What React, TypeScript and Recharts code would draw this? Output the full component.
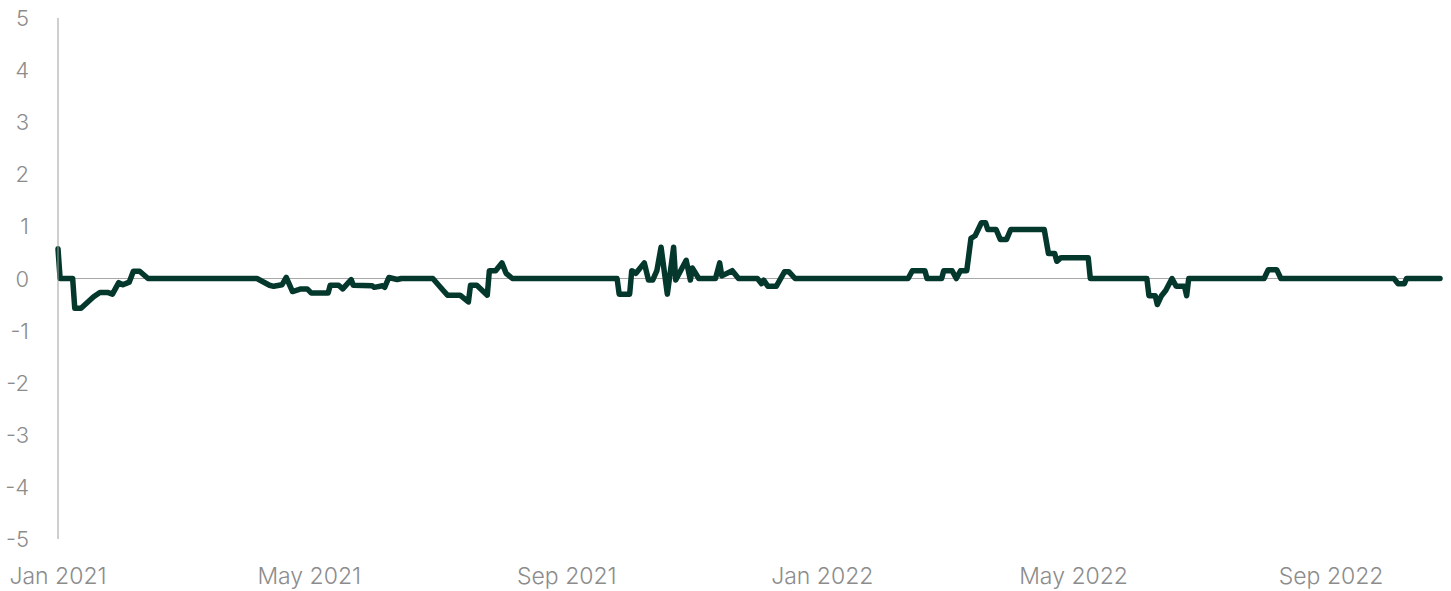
import React from 'react';
import { LineChart, Line, XAxis, YAxis, ReferenceLine } from 'recharts';

// Daily spread readings (percentage points), sampled at the turning points of the series
const dates = [
  '2021-01-01', '2021-01-02', '2021-01-08', '2021-01-09', '2021-01-12', '2021-01-18', '2021-01-21',
  '2021-01-25', '2021-01-27', '2021-01-30', '2021-02-01', '2021-02-04', '2021-02-06', '2021-02-09',
  '2021-02-13', '2021-04-06', '2021-04-12', '2021-04-14', '2021-04-18', '2021-04-20', '2021-04-23',
  '2021-04-27', '2021-04-30', '2021-05-02', '2021-05-10', '2021-05-11', '2021-05-15', '2021-05-17',
  '2021-05-21', '2021-05-22', '2021-05-31', '2021-06-01', '2021-06-05', '2021-06-06', '2021-06-08',
  '2021-06-12', '2021-06-14', '2021-06-29', '2021-07-04', '2021-07-06', '2021-07-12', '2021-07-16',
  '2021-07-17', '2021-07-20', '2021-07-25', '2021-07-26', '2021-07-29', '2021-08-01', '2021-08-03',
  '2021-08-06', '2021-09-25', '2021-09-26', '2021-10-01', '2021-10-02', '2021-10-04', '2021-10-08',
  '2021-10-10', '2021-10-12', '2021-10-14', '2021-10-16', '2021-10-19', '2021-10-22', '2021-10-23',
  '2021-10-28', '2021-10-30', '2021-10-31', '2021-11-03', '2021-11-11', '2021-11-13', '2021-11-14',
  '2021-11-19', '2021-11-22', '2021-12-01', '2021-12-03', '2021-12-04', '2021-12-06', '2021-12-10',
  '2021-12-14', '2021-12-16', '2021-12-19', '2022-02-11', '2022-02-13', '2022-02-19', '2022-02-20',
  '2022-02-27', '2022-02-28', '2022-03-04', '2022-03-06', '2022-03-08', '2022-03-11', '2022-03-13',
  '2022-03-15', '2022-03-18', '2022-03-20', '2022-03-21', '2022-03-25', '2022-03-27', '2022-03-30',
  '2022-04-01', '2022-04-17', '2022-04-19', '2022-04-22', '2022-04-23', '2022-04-25', '2022-05-08',
  '2022-05-09', '2022-06-05', '2022-06-06', '2022-06-09', '2022-06-10', '2022-06-12', '2022-06-14',
  '2022-06-17', '2022-06-19', '2022-06-23', '2022-06-24', '2022-06-25', '2022-07-31', '2022-08-02',
  '2022-08-06', '2022-08-08', '2022-10-01', '2022-10-03', '2022-10-06', '2022-10-07', '2022-10-23',
];

const values = [
  0.57, 0, 0, -0.57, -0.57, -0.35, -0.27,
  -0.27, -0.3, -0.08, -0.12, -0.07, 0.14, 0.14,
  0, 0, -0.13, -0.15, -0.12, 0.02, -0.25,
  -0.2, -0.2, -0.28, -0.28, -0.13, -0.13, -0.2,
  -0.02, -0.13, -0.14, -0.17, -0.14, -0.17, 0.02,
  -0.02, 0, 0, -0.23, -0.32, -0.32, -0.45,
  -0.13, -0.13, -0.32, 0.15, 0.15, 0.3, 0.1,
  0, 0, -0.3, -0.3, 0.15, 0.1, 0.3,
  -0.03, -0.03, 0.15, 0.6, -0.3, 0.6, -0.03,
  0.35, -0.03, 0.2, 0, 0, 0.3, 0.05,
  0.15, 0, 0, -0.1, -0.03, -0.15, -0.15,
  0.13, 0.13, 0, 0, 0.15, 0.15, 0,
  0, 0.15, 0.15, 0, 0.15, 0.15, 0.77,
  0.82, 1.07, 1.07, 0.94, 0.94, 0.75, 0.75,
  0.94, 0.94, 0.48, 0.48, 0.33, 0.4, 0.4,
  0, 0, -0.33, -0.33, -0.5, -0.33, -0.23,
  0, -0.15, -0.15, -0.33, 0, 0, 0.17,
  0.17, 0, 0, -0.1, -0.1, 0, 0,
];

const tickDates = ['2021-01-01', '2021-05-01', '2021-09-01', '2022-01-01', '2022-05-01', '2022-09-01'];
const tickLabels = ['Jan 2021', 'May 2021', 'Sep 2021', 'Jan 2022', 'May 2022', 'Sep 2022'];
const yTicks = [-5, -4, -3, -2, -1, 0, 1, 2, 3, 4, 5];

const toTime = (s: string) => Date.parse(s + 'T00:00:00Z');

const data = dates.map((d, i) => ({ t: toTime(d), v: values[i] }));
const xTicks = tickDates.map(toTime);
const labelFor = (t: number) => tickLabels[xTicks.indexOf(t)] ?? '';

const FONT = 'Inter, "Noto Sans", sans-serif';
const TEXT = '#8c8c8c';

const YTick = ({ y, payload }: any) => (
  <text x={29} y={y} textAnchor="end" dominantBaseline="central"
    fontFamily={FONT} fontSize={22} fill={TEXT} fontWeight={300}>
    {payload.value}
  </text>
);

const XTick = ({ x, y, payload }: any) => (
  <text x={x} y={y + 29} textAnchor="middle" dominantBaseline="central"
    fontFamily={FONT} fontSize={23} fill={TEXT} fontWeight={300}>
    {labelFor(payload.value)}
  </text>
);

export default function App() {
  return (
    <div style={{ position: 'absolute', left: 0, top: 0, background: '#fff' }}>
      <LineChart width={1451} height={591} data={data}
        margin={{ top: 18, right: 11, bottom: 0, left: 0 }}>
        <XAxis dataKey="t" type="number" scale="time"
          domain={[data[0].t, data[data.length - 1].t]}
          ticks={xTicks} tick={<XTick />} axisLine={false} tickLine={false}
          height={52} interval={0} />
        <YAxis domain={[-5, 5]} ticks={yTicks} width={58} tick={<YTick />}
          tickLine={false} axisLine={{ stroke: '#9e9e9e', strokeWidth: 1 }} interval={0} />
        <ReferenceLine y={0} stroke="#a8a8a8" strokeWidth={1} />
        <Line dataKey="v" type="linear" stroke="#04382c" strokeWidth={5.5}
          dot={false} strokeLinejoin="round" strokeLinecap="round"
          isAnimationActive={false} />
      </LineChart>
    </div>
  );
}
